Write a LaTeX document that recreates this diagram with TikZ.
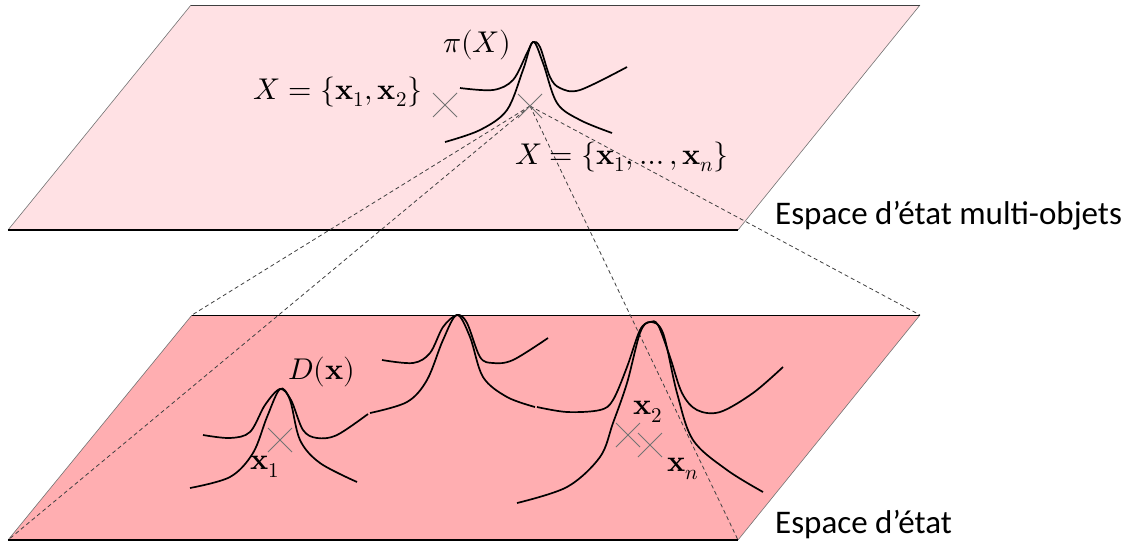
\documentclass[tikz,border=0pt]{standalone}
\usepackage{fontspec}
\usepackage{unicode-math}
\setmainfont{Carlito}
\setmathfont{Latin Modern Math}
\begin{document}
\begin{tikzpicture}[x=1pt,y=-1pt,
  curve/.style={line width=1.7pt,black,smooth,tension=0.55},
  crossmark/.style={draw=black!55,line width=0.8pt},
  dashline/.style={draw=black!75,line width=0.8pt,dash pattern=on 4pt off 3pt},
  lbl/.style={inner sep=0pt,font=\fontsize{30}{34}\selectfont},
  planelbl/.style={inner sep=0pt,anchor=west,font=\fontsize{33}{38}\selectfont}]
\useasboundingbox (0,0) rectangle (1131,542);
% corners
\coordinate (tTL) at (191,5);
\coordinate (tTR) at (920,5);
\coordinate (tBR) at (738,230);
\coordinate (tBL) at (8,230);
\coordinate (bTL) at (192,315);
\coordinate (bTR) at (920,315);
\coordinate (bBR) at (738,540);
\coordinate (bBL) at (8,540);
\coordinate (apex) at (530,106);
% planes
\fill[fill={rgb,255:red,255;green,225;blue,228}] (tTL) -- (tTR) -- (tBR) -- (tBL) -- cycle;
\draw[black!55,line width=0.6pt] (tTL) -- (tBL) (tTR) -- (tBR);
\draw[black!75,line width=1pt] (tTL) -- (tTR);
\draw[black,line width=1.5pt] (tBL) -- (tBR);
\fill[fill={rgb,255:red,255;green,174;blue,177}] (bTL) -- (bTR) -- (bBR) -- (bBL) -- cycle;
\draw[black!55,line width=0.6pt] (bTL) -- (bBL) (bTR) -- (bBR);
\draw[black,line width=1pt] (bTL) -- (bTR);
\draw[black,line width=1.5pt] (bBL) -- (bBR);
% dashed projections
\draw[dashline] (apex) -- (bTL);
\draw[dashline] (apex) -- (bBL);
\draw[dashline] (apex) -- (bBR);
\draw[dashline] (apex) -- (bTR);
% crosses top
\draw[crossmark] (433,93) -- (457,117) (433,117) -- (457,93);
\draw[crossmark] (518,94) -- (542,118) (518,118) -- (542,94);
% top peak
\draw[curve] plot coordinates {(460,88) (493,90) (513,80) (527,53) (533,42) (540,47) (550,77) (560,88) (580,90) (627,67)};
\draw[curve] plot coordinates {(445,142) (480,130) (507,110) (523,70) (533,42) (543,63) (557,103) (580,120) (612,133)};
% bottom crosses
\draw[crossmark] (268,428) -- (292,452) (268,452) -- (292,428);
\draw[crossmark] (616,423) -- (640,447) (616,447) -- (640,423);
\draw[crossmark] (638,433) -- (662,457) (638,457) -- (662,433);
% peak 1
\draw[curve] plot coordinates {(203,435) (230,438) (250,432) (265,405) (280,389) (291,400) (303,430) (317,438) (337,435) (368,414)};
\draw[curve] plot coordinates {(190,488) (230,477) (253,453) (267,417) (280,389) (290,400) (300,440) (320,463) (357,482)};
% peak 2
\draw[curve] plot coordinates {(370,413) (407,402) (427,380) (443,340) (457,315) (470,337) (483,377) (507,397) (535,407)};
\draw[curve] plot coordinates {(382,360) (413,363) (430,353) (443,327) (457,315) (467,323) (480,357) (493,363) (513,360) (548,338)};
% peak 3
\draw[curve] plot coordinates {(537,407) (567,412) (600,410) (613,400) (627,367) (640,330) (650,322) (658,325) (670,357) (682,393) (697,410) (720,412) (753,393) (783,367)};
\draw[curve] plot coordinates {(517,503) (567,487) (600,457) (613,423) (627,383) (640,333) (650,322) (663,333) (677,393) (693,440) (727,470) (763,492)};
% labels
\node[lbl] (pi) at (477,45) {$\pi(X)$};
\node[lbl] (X2) at (338,92) {$X=\{\symbf{x}_1,\symbf{x}_2\}$};
\node[lbl] (Xn) at (622,157) {$X=\{\symbf{x}_1,\ldots,\symbf{x}_n\}$};
\node[lbl] (D) at (322,372) {$D(\symbf{x})$};
\node[lbl] (x1) at (265,467) {$\symbf{x}_1$};
\node[lbl] (x2) at (648,412) {$\symbf{x}_2$};
\node[lbl] (xn) at (683,469) {$\symbf{x}_n$};
\node[planelbl] (multi) at (775,216) {Espace d’état multi-objets};
\node[planelbl] (single) at (775,525) {Espace d’état};
\end{tikzpicture}
\end{document}
